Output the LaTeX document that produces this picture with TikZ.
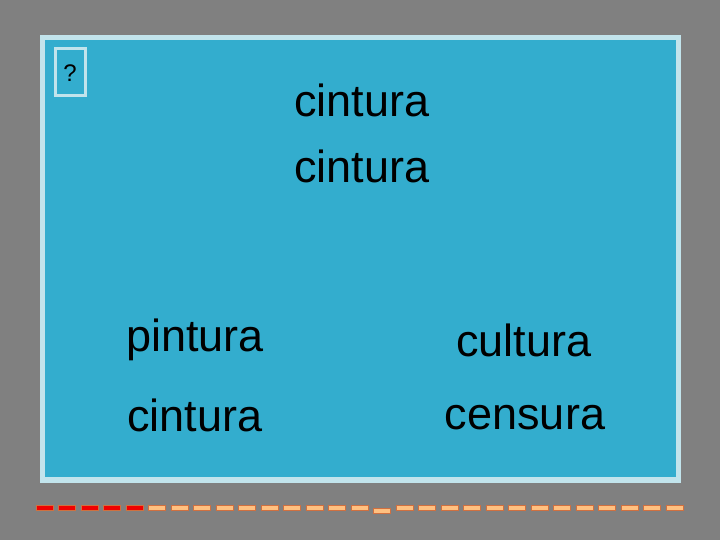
\documentclass[tikz,border=0pt]{standalone}
\usepackage{fontspec}
\setmainfont{Liberation Sans}
\definecolor{bg}{HTML}{808080}
\definecolor{panel}{HTML}{33ADCE}
\definecolor{rim}{HTML}{C2E4EC}
\definecolor{dred}{HTML}{F00000}
\definecolor{dorg}{HTML}{FFC080}
\definecolor{dedge}{HTML}{D07040}
\tikzset{word/.style={font=\fontsize{45}{50}\selectfont, inner sep=0pt, anchor=center}}
\begin{document}
\begin{tikzpicture}[x=1pt,y=-1pt]
\fill[bg] (0,0) rectangle (720,540);
\useasboundingbox (0,0) rectangle (720,540);
\fill[rim] (40,35) rectangle (681,483);
\fill[panel] (45,40) rectangle (676,477);
\draw[rim,line width=3pt] (55,49) rectangle (85,96);
\node[font=\fontsize{24}{26}\selectfont] (q) at (70,73) {?};
\node[word] (t1) at (362,100) {cintura};
\node[word] (t2) at (362,166) {cintura};
\node[word] (a) at (195,340) {pintura};
\node[word] (b) at (195,415) {cintura};
\node[word] (c) at (524,340) {cultura};
\node[word] (d) at (525,418) {censura};
\foreach \i in {0,...,28}{
  \pgfmathsetmacro{\xx}{36+22.5*\i}
  \ifnum\i<5 \def\cc{dred}\else\def\cc{dorg}\fi
  \ifnum\i=15 \def\yy{508}\else\def\yy{505}\fi
  \draw[dedge,fill=\cc,line width=0.6pt] (\xx,\yy) rectangle ++(17,5);
}
\end{tikzpicture}
\end{document}
